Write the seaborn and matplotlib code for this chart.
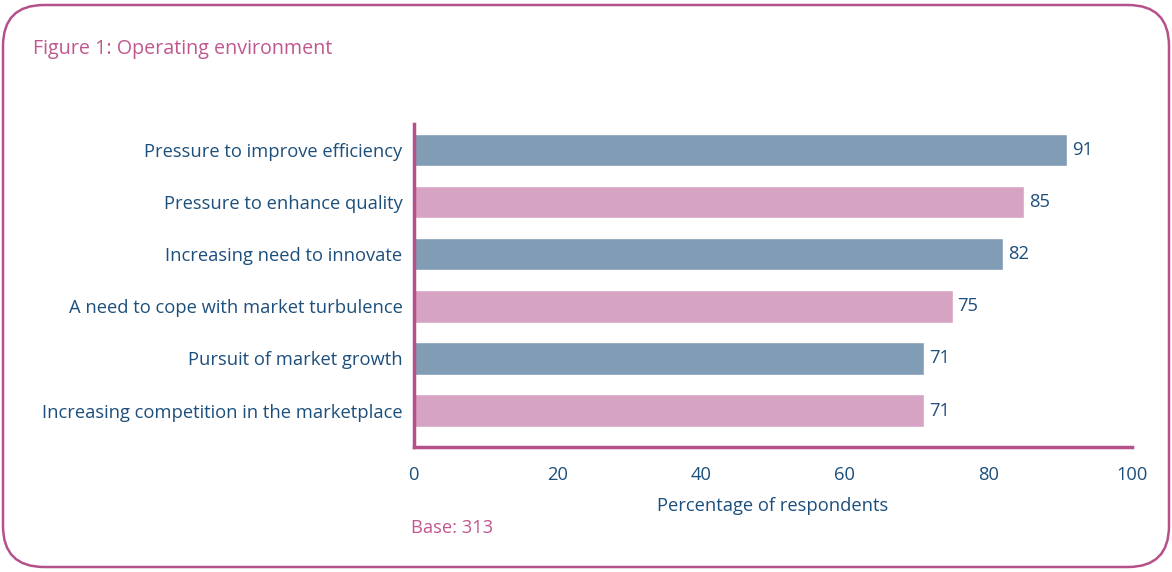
import matplotlib
matplotlib.use("Agg")
import matplotlib.pyplot as plt
from matplotlib.patches import FancyBboxPatch
import pandas as pd
import seaborn as sns

# values
categories = ["Pressure to improve efficiency", "Pressure to enhance quality",
              "Increasing need to innovate", "A need to cope with market turbulence",
              "Pursuit of market growth", "Increasing competition in the marketplace"]
values = [91, 85, 82, 75, 71, 71]
bar_colors = ["#819cb5", "#d7a3c3", "#819cb5", "#d7a3c3", "#819cb5", "#d7a3c3"]
x_ticks = [0, 20, 40, 60, 80, 100]

TEXT = "#1d4f7c"
PINK = "#c0588f"
SPINE = "#b5508a"
FS = 13.2

sns.set_style("white")
plt.rcParams["font.family"] = ["Open Sans", "DejaVu Sans"]

df = pd.DataFrame({"category": categories, "value": values})

fig = plt.figure(figsize=(11.72, 5.72), dpi=100)
ax = fig.add_axes([0.353, 0.2185, 0.613, 0.5645])

sns.barplot(data=df, x="value", y="category", hue="category", palette=bar_colors,
            legend=False, width=0.62, saturation=1, ax=ax)

for i, v in enumerate(values):
    ax.text(v + 0.7, i, str(v), va="center", ha="left", fontsize=FS, color=TEXT)

ax.set_xlim(0, 100)
ax.set_ylim(5.7, -0.5)
ax.set_xticks(x_ticks)
ax.tick_params(axis="both", length=0, labelsize=FS, labelcolor=TEXT)
ax.tick_params(axis="x", pad=14)
ax.tick_params(axis="y", pad=8)
ax.set_ylabel("")
ax.set_xlabel("Percentage of respondents", fontsize=FS, color=TEXT, labelpad=9)

for side in ["top", "right"]:
    ax.spines[side].set_visible(False)
for side in ["left", "bottom"]:
    ax.spines[side].set_color(SPINE)
    ax.spines[side].set_linewidth(2.5)

fig.text(33 / 1172, 1 - 49 / 572, "Figure 1: Operating environment", fontsize=14.2,
         color=PINK, va="center", ha="left")
fig.text(411 / 1172, 1 - 528 / 572, "Base: 313", fontsize=FS, color=PINK,
         va="center", ha="left")

border = FancyBboxPatch((3 / 1172, 5 / 572), 1166 / 1172, 562 / 572,
                        boxstyle="round,pad=0,rounding_size=0.035",
                        transform=fig.transFigure, fill=False,
                        edgecolor=SPINE, linewidth=1.8, mutation_aspect=1172 / 572)
fig.patches.append(border)

fig.savefig("out.png", dpi=100)
